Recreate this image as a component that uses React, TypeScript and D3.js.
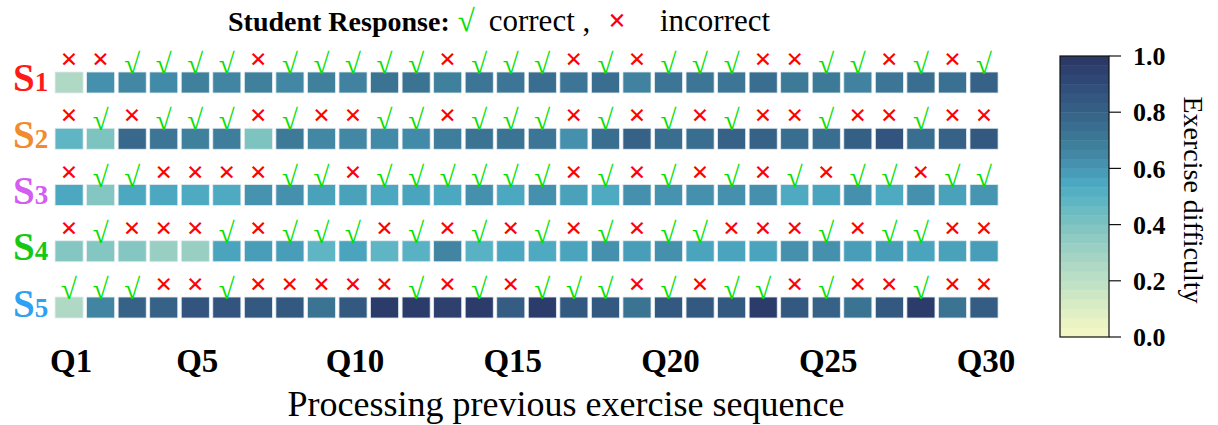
import React from 'react';
import * as d3 from 'd3';

const students = ['S1', 'S2', 'S3', 'S4', 'S5'];
const studentColors = ['#ff1a1a', '#f28a2e', '#d45cf0', '#14c814', '#2ea2f2'];
const questions = d3.range(1, 31).map(i => `Q${i}`);
const tickQuestions = ['Q1', 'Q5', 'Q10', 'Q15', 'Q20', 'Q25', 'Q30'];

// exercise difficulty per student / question
const s1Difficulty = [0.25, 0.62, 0.65, 0.64, 0.68, 0.66, 0.68, 0.65, 0.68, 0.67, 0.73, 0.73, 0.68, 0.72, 0.72,
  0.75, 0.72, 0.75, 0.67, 0.72, 0.72, 0.72, 0.75, 0.7, 0.7, 0.67, 0.72, 0.75, 0.74, 0.8];
const s2Difficulty = [0.48, 0.4, 0.77, 0.72, 0.68, 0.69, 0.4, 0.7, 0.65, 0.65, 0.64, 0.64, 0.69, 0.73, 0.73,
  0.72, 0.62, 0.75, 0.8, 0.75, 0.75, 0.8, 0.8, 0.75, 0.75, 0.81, 0.86, 0.75, 0.8, 0.84];
const s3Difficulty = [0.55, 0.38, 0.55, 0.55, 0.54, 0.54, 0.61, 0.62, 0.57, 0.57, 0.55, 0.56, 0.55, 0.62, 0.55,
  0.62, 0.57, 0.54, 0.62, 0.61, 0.62, 0.62, 0.62, 0.54, 0.56, 0.62, 0.54, 0.62, 0.57, 0.6];
const s4Difficulty = [0.38, 0.38, 0.38, 0.32, 0.32, 0.56, 0.58, 0.58, 0.48, 0.56, 0.48, 0.5, 0.66, 0.5, 0.55,
  0.54, 0.56, 0.62, 0.58, 0.62, 0.56, 0.56, 0.56, 0.62, 0.62, 0.58, 0.58, 0.56, 0.57, 0.58];
const s5Difficulty = [0.25, 0.66, 0.8, 0.8, 0.86, 0.86, 0.84, 0.84, 0.73, 0.84, 0.97, 0.97, 0.95, 0.97, 0.82,
  0.97, 0.84, 0.84, 0.73, 0.84, 0.84, 0.84, 0.97, 0.84, 0.8, 0.73, 0.84, 0.97, 0.73, 0.82];

// 1 = correct, 0 = incorrect
const s1Response = [0, 0, 1, 1, 1, 1, 0, 1, 1, 1, 1, 1, 0, 1, 1, 1, 0, 1, 0, 1, 1, 1, 0, 0, 1, 1, 0, 1, 0, 1];
const s2Response = [0, 1, 0, 1, 1, 1, 0, 1, 0, 0, 1, 1, 0, 1, 1, 1, 0, 1, 0, 1, 0, 1, 0, 0, 1, 0, 0, 1, 0, 0];
const s3Response = [0, 1, 1, 0, 0, 0, 0, 1, 1, 0, 1, 1, 1, 1, 1, 1, 0, 1, 0, 1, 0, 1, 0, 1, 0, 1, 1, 0, 1, 1];
const s4Response = [0, 1, 0, 0, 0, 1, 0, 1, 1, 1, 0, 1, 0, 1, 0, 1, 0, 1, 0, 1, 1, 0, 0, 0, 1, 0, 1, 1, 0, 0];
const s5Response = [1, 1, 1, 0, 0, 1, 0, 0, 0, 0, 0, 1, 0, 1, 0, 1, 1, 1, 0, 1, 0, 1, 1, 0, 1, 0, 0, 1, 0, 0];

const difficulty = [s1Difficulty, s2Difficulty, s3Difficulty, s4Difficulty, s5Difficulty];
const responses = [s1Response, s2Response, s3Response, s4Response, s5Response];

const colorbarTicks = [0, 0.2, 0.4, 0.6, 0.8, 1.0];

const serif = '"Liberation Serif", "Times New Roman", serif';

export default function App() {
  const width = 1218;
  const height = 425;

  const x = d3.scaleBand().domain(questions).range([53.3, 999.8]).paddingInner(0.11).paddingOuter(0.055);
  const y = d3.scaleBand().domain(students).range([72, 318]).paddingInner(0.627).paddingOuter(0);

  // muted YlGnBu-like ramp
  const color = d3.scaleLinear<string>()
    .domain([0, 0.1, 0.2, 0.3, 0.4, 0.5, 0.55, 0.6, 0.7, 0.8, 0.9, 1])
    .range(['#f6f7c4', '#dceec4', '#bde0c6', '#a0d2c4', '#7dc3c0', '#58b2c4', '#4ca8c0', '#4696b2',
      '#3d7a98', '#366287', '#2f4b78', '#2a3564'])
    .interpolate(d3.interpolateRgb);

  const cb = d3.scaleLinear().domain([0, 1]).range([337, 56]);
  const bands = d3.range(0, 30);
  const bandH = (cb(0) - cb(1)) / bands.length;

  const cells = [];
  const marks = [];
  students.forEach((s, r) => {
    questions.forEach((q, c) => {
      const x0 = x(q)!;
      const y0 = y(s)!;
      cells.push(
        <rect key={`c${r}-${c}`} x={x0} y={y0} width={x.bandwidth()} height={y.bandwidth()}
          fill={color(difficulty[r][c])} stroke="#e4ecf0" strokeWidth={0.8} />
      );
      const cx = x0 + x.bandwidth() / 2;
      if (responses[r][c] === 1) {
        marks.push(
          <text key={`m${r}-${c}`} x={cx} y={y0 + 2} textAnchor="middle" fontFamily={serif}
            fontSize={29} fontWeight="bold" fill="#00e000">√</text>
        );
      } else {
        marks.push(
          <text key={`m${r}-${c}`} x={cx} y={y0 - 3} textAnchor="middle" fontFamily={serif}
            fontSize={30} fontWeight="bold" fill="#ff0000">×</text>
        );
      }
    });
  });

  return (
    <svg width={width} height={height} style={{ position: 'absolute', left: 0, top: 0, background: '#fff' }}>
      <text x={228} y={31} fontFamily={serif} fontSize={31}>
        <tspan fontWeight="bold" fontSize={28}>Student Response:</tspan>
        <tspan fill="#00e000" dx={8}>√</tspan>
        <tspan dx={14}>correct ,</tspan>
        <tspan fill="#ff0000" fontWeight="bold" dx={18}>×</tspan>
        <tspan dx={34}>incorrect</tspan>
      </text>

      {students.map((s, r) => (
        <text key={s} x={13} y={y(s)! + y.bandwidth() / 2 + 9} fontFamily={serif} fontWeight="bold"
          fontSize={39} fill={studentColors[r]}>
          S<tspan fontSize={27}>{s.slice(1)}</tspan>
        </text>
      ))}

      {cells}
      {marks}

      {tickQuestions.map(q => (
        <text key={q} x={x(q)! + x.bandwidth() / 2 + 2} y={372} textAnchor="middle" fontFamily={serif}
          fontWeight="bold" fontSize={33}>{q}</text>
      ))}

      <text x={566} y={416} textAnchor="middle" fontFamily={serif} fontSize={36}>
        Processing previous exercise sequence
      </text>

      {bands.map(i => (
        <rect key={`b${i}`} x={1060} y={cb(1) + i * bandH} width={49} height={bandH + 0.5}
          fill={color(1 - (i + 0.5) / bands.length)} />
      ))}
      <rect x={1060} y={cb(1)} width={49} height={cb(0) - cb(1)} fill="none" stroke="#111" strokeWidth={1.2} />
      {colorbarTicks.map(t => (
        <g key={t}>
          <line x1={1109} x2={1121} y1={cb(t)} y2={cb(t)} stroke="#111" strokeWidth={1.2} />
          <text x={1133} y={cb(t)} dy="0.35em" fontFamily={serif} fontWeight="bold" fontSize={26}>
            {t.toFixed(1)}
          </text>
        </g>
      ))}
      <text transform="translate(1184,200) rotate(90)" textAnchor="middle" fontFamily={serif} fontSize={28}>
        Exercise difficulty
      </text>
    </svg>
  );
}
